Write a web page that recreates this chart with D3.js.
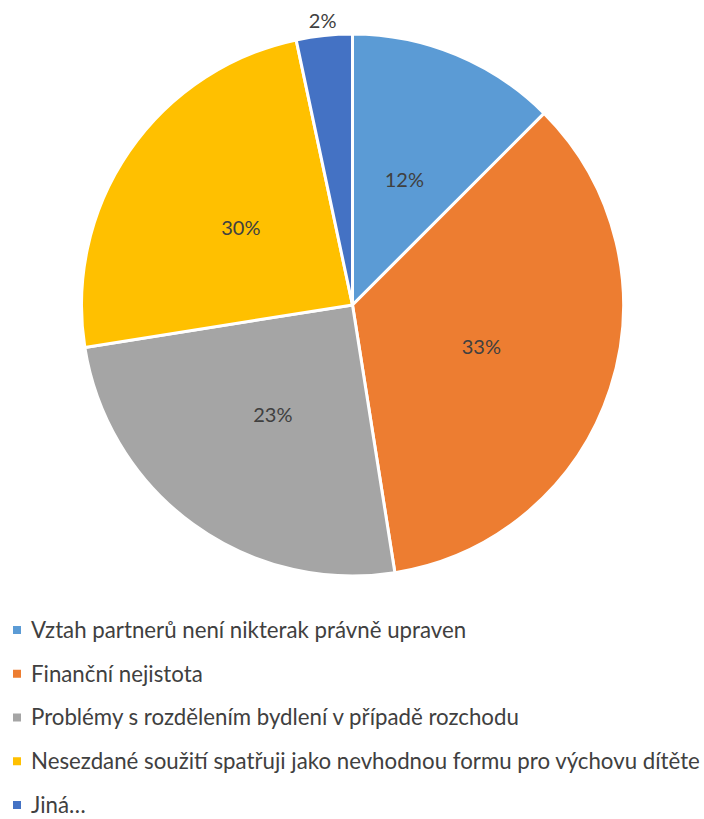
<!DOCTYPE html>
<html>
<head>
<meta charset="utf-8">
<script src="https://cdn.jsdelivr.net/npm/d3@7"></script>
<style>
  body { margin: 0; background: #fff; }
  svg { display: block; }
</style>
</head>
<body>
<svg id="chart" width="704" height="819"></svg>
<script>
const categories = [
  "Vztah partnerů není nikterak právně upraven",
  "Finanční nejistota",
  "Problémy s rozdělením bydlení v případě rozchodu",
  "Nesezdané soužití spatřuji jako nevhodnou formu pro výchovu dítěte",
  "Jiná…"
];
// slice sizes
const values = [15, 42, 30, 29, 4];
// percentage labels as printed on the chart
const labels = ["12%", "33%", "23%", "30%", "2%"];
const colors = ["#5B9BD5", "#ED7D31", "#A5A5A5", "#FFC000", "#4472C4"];

const cx = 352.5, cy = 305, radius = 271;
const font = "Lato, 'Open Sans', sans-serif";

const svg = d3.select("#chart");

const pie = d3.pie().sort(null).value(d => d)(values);
const arc = d3.arc().innerRadius(0).outerRadius(radius);
const labelArc = d3.arc().innerRadius(radius * 0.5).outerRadius(radius * 0.5);
const outerArc = d3.arc().innerRadius(radius + 15).outerRadius(radius + 15);

const g = svg.append("g").attr("transform", `translate(${cx},${cy})`);

g.selectAll("path")
  .data(pie)
  .enter().append("path")
    .attr("d", arc)
    .attr("fill", (d, i) => colors[i])
    .attr("stroke", "#fff")
    .attr("stroke-width", 3)
    .attr("stroke-linejoin", "round");

g.selectAll("text.lbl")
  .data(pie)
  .enter().append("text")
    .attr("class", "lbl")
    .attr("transform", (d, i) => {
      // small slice gets its label outside
      let p = values[i] / d3.sum(values) < 0.05 ? outerArc.centroid(d) : labelArc.centroid(d);
      return `translate(${p})`;
    })
    .attr("text-anchor", "middle")
    .attr("dy", "0.35em")
    .style("font-family", font)
    .style("font-size", "20px")
    .style("fill", "#404040")
    .text((d, i) => labels[i]);

// legend
const legendY = d3.scalePoint().domain(categories).range([630, 805]);
const leg = svg.append("g");
const rows = leg.selectAll("g")
  .data(categories)
  .enter().append("g")
    .attr("transform", d => `translate(0,${legendY(d)})`);

rows.append("rect")
  .attr("x", 13).attr("y", -4)
  .attr("width", 8).attr("height", 8)
  .attr("fill", (d, i) => colors[i]);

rows.append("text")
  .attr("x", 31)
  .attr("dy", "0.35em")
  .style("font-family", font)
  .style("font-size", "20px")
  .style("fill", "#404040")
  .text(d => d);

// scale legend font so the longest line spans like the reference
const longest = rows.selectAll("text").nodes().reduce((a, n) => Math.max(a, n.getComputedTextLength()), 0);
const fs = 20 * 669 / longest;
rows.selectAll("text").style("font-size", fs + "px");
</script>
</body>
</html>
